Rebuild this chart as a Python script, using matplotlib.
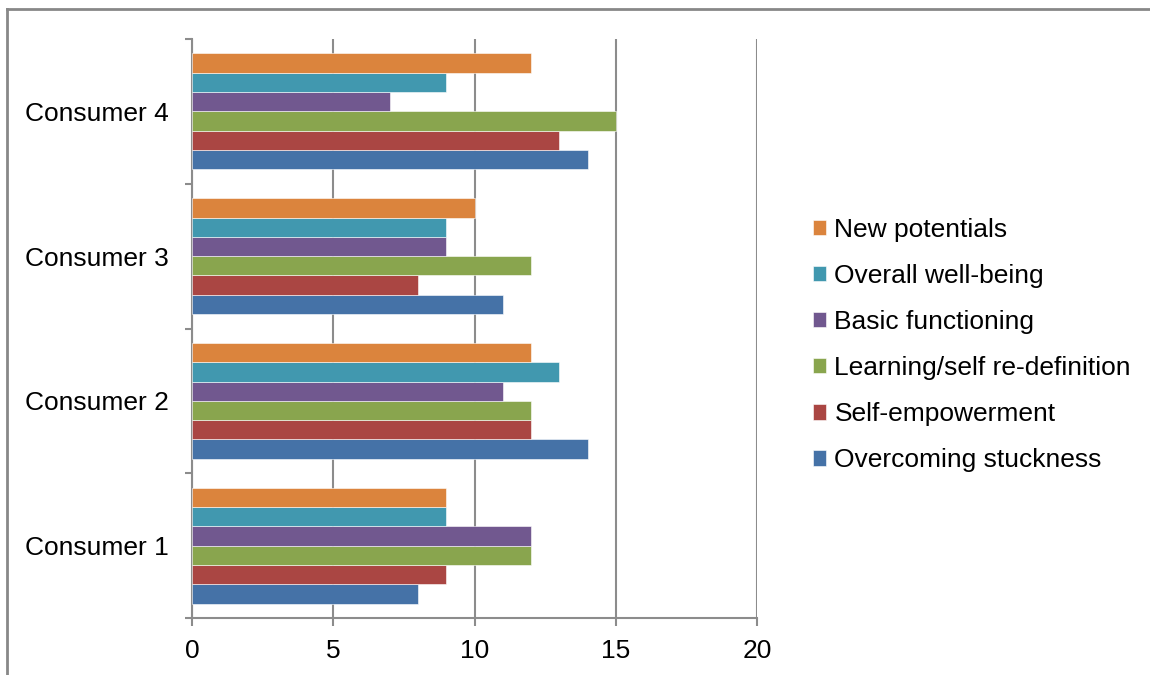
import numpy as np
import matplotlib
matplotlib.use("Agg")
import matplotlib.pyplot as plt
from matplotlib.lines import Line2D

plt.rcParams['font.family'] = ['Liberation Sans', 'DejaVu Sans']

consumers = ["Consumer 1", "Consumer 2", "Consumer 3", "Consumer 4"]
series_names = ["Overcoming stuckness", "Self-empowerment", "Learning/self re-definition",
                "Basic functioning", "Overall well-being", "New potentials"]
overcoming = [8, 14, 11, 14]
self_emp = [9, 12, 8, 13]
learning = [12, 12, 12, 15]
basic = [12, 11, 9, 7]
wellbeing = [9, 13, 9, 9]
new_pot = [9, 12, 10, 12]
colors = ["#4572A7", "#AA4643", "#89A54E", "#71588F", "#4198AF", "#DB843D"]

series = [overcoming, self_emp, learning, basic, wellbeing, new_pot]

fig = plt.figure(figsize=(11.5, 6.75), dpi=100)
ax = fig.add_axes([192/1150, 1 - 618/675, (757-192)/1150, (618-39)/675])

y = np.arange(len(consumers))
h = 0.8 / len(series)
for i, (vals, name, c) in enumerate(zip(series, series_names, colors)):
    ax.barh(y - 0.4 + h*(i + 0.5), vals, height=h, color=c, label=name,
            edgecolor="white", linewidth=0.4, zorder=3)

grid_c = "#8c8c8c"
ax.set_xlim(0, 20)
ax.set_ylim(-0.5, 3.5)
ax.set_xticks([0, 5, 10, 15, 20])
ax.xaxis.grid(True, color=grid_c, linewidth=1.5, zorder=0)
ax.set_axisbelow(True)

ax.set_yticks(np.arange(-0.5, 4, 1))
ax.set_yticklabels([])
ax.set_yticks(y, minor=True)
ax.set_yticklabels(consumers, minor=True)

for s in ["top", "right"]:
    ax.spines[s].set_visible(False)
for s in ["left", "bottom"]:
    ax.spines[s].set_color(grid_c)
    ax.spines[s].set_linewidth(1.5)

ax.tick_params(axis="x", which="major", length=6, width=1.5, color=grid_c,
               labelsize=19, pad=9, direction="out")
ax.tick_params(axis="y", which="major", length=5, width=1.5, color=grid_c, direction="out")
ax.tick_params(axis="y", which="minor", length=0, labelsize=19, pad=17)

handles, labels = ax.get_legend_handles_labels()
leg = fig.legend(handles[::-1], labels[::-1], loc="center left",
                 bbox_to_anchor=(789/1150, 1 - 345/675), frameon=False, fontsize=19,
                 handlelength=0.52, handleheight=0.52, handletextpad=0.3, labelspacing=0.84)

# outer frame on top and left
fig.add_artist(Line2D([7/1150, 7/1150], [0, 1 - 9/675], color="#888888", linewidth=2))
fig.add_artist(Line2D([7/1150, 1], [1 - 9/675, 1 - 9/675], color="#888888", linewidth=2))

fig.savefig("out.png", dpi=100)
